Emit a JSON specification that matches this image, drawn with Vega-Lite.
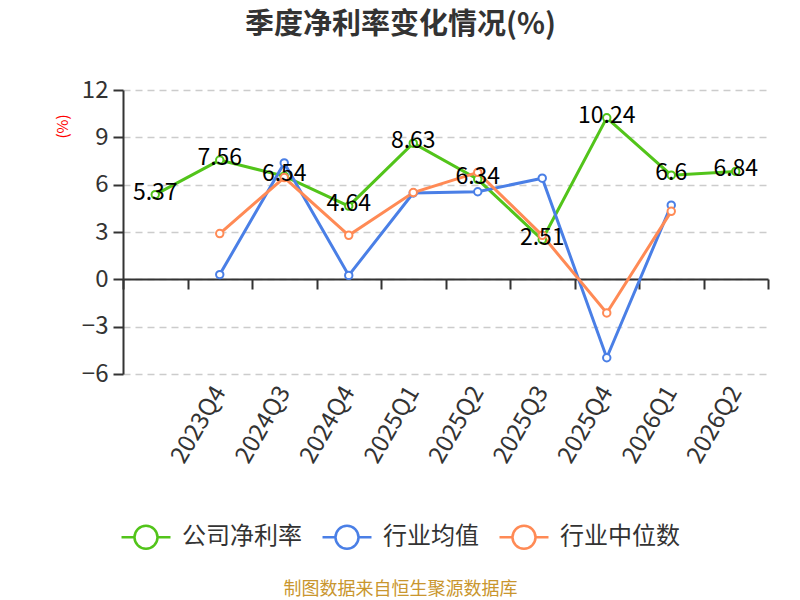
{
  "$schema": "https://vega.github.io/schema/vega-lite/v6.json",
  "description": "季度净利率变化情况",
  "autosize": {"type": "none"},
  "width": 645,
  "height": 284,
  "padding": {"left": 123, "top": 90, "right": 32, "bottom": 226},
  "background": "white",
  "config": {
    "font": "Noto Sans CJK SC",
    "view": {"stroke": null}
  },
  "title": {
    "text": "季度净利率变化情况(%)",
    "fontSize": 29,
    "fontWeight": "bold",
    "color": "#333333",
    "anchor": "middle",
    "dx": -45,
    "offset": 38
  },
  "data": {
    "values": [
      {"quarter": "", "series": "公司净利率", "value": 5.37},
      {"quarter": "2023Q4", "series": "公司净利率", "value": 7.56},
      {"quarter": "2024Q3", "series": "公司净利率", "value": 6.54},
      {"quarter": "2024Q4", "series": "公司净利率", "value": 4.64},
      {"quarter": "2025Q1", "series": "公司净利率", "value": 8.63},
      {"quarter": "2025Q2", "series": "公司净利率", "value": 6.34},
      {"quarter": "2025Q3", "series": "公司净利率", "value": 2.51},
      {"quarter": "2025Q4", "series": "公司净利率", "value": 10.24},
      {"quarter": "2026Q1", "series": "公司净利率", "value": 6.6},
      {"quarter": "2026Q2", "series": "公司净利率", "value": 6.84},
      {"quarter": "2023Q4", "series": "行业均值", "value": 0.3},
      {"quarter": "2024Q3", "series": "行业均值", "value": 7.38},
      {"quarter": "2024Q4", "series": "行业均值", "value": 0.25},
      {"quarter": "2025Q1", "series": "行业均值", "value": 5.47},
      {"quarter": "2025Q2", "series": "行业均值", "value": 5.55},
      {"quarter": "2025Q3", "series": "行业均值", "value": 6.41},
      {"quarter": "2025Q4", "series": "行业均值", "value": -4.97},
      {"quarter": "2026Q1", "series": "行业均值", "value": 4.7},
      {"quarter": "2023Q4", "series": "行业中位数", "value": 2.9},
      {"quarter": "2024Q3", "series": "行业中位数", "value": 6.45},
      {"quarter": "2024Q4", "series": "行业中位数", "value": 2.79},
      {"quarter": "2025Q1", "series": "行业中位数", "value": 5.5},
      {"quarter": "2025Q2", "series": "行业中位数", "value": 6.78},
      {"quarter": "2025Q3", "series": "行业中位数", "value": 2.79},
      {"quarter": "2025Q4", "series": "行业中位数", "value": -2.13},
      {"quarter": "2026Q1", "series": "行业中位数", "value": 4.31}
    ]
  },
  "encoding": {
    "x": {
      "field": "quarter",
      "type": "nominal",
      "sort": ["", "2023Q4", "2024Q3", "2024Q4", "2025Q1", "2025Q2", "2025Q3", "2025Q4", "2026Q1", "2026Q2"],
      "scale": {"paddingInner": 0, "paddingOuter": 0},
      "axis": {
        "offset": -95,
        "domainColor": "#333333",
        "domainWidth": 2,
        "tickBand": "extent",
        "tickColor": "#333333",
        "tickWidth": 2,
        "tickSize": 10,
        "labelAngle": -60,
        "labelAlign": "right",
        "labelBaseline": "middle",
        "labelFontSize": 24,
        "labelColor": "#333333",
        "labelPadding": 99,
        "grid": false,
        "title": "制图数据来自恒生聚源数据库",
        "titleColor": "#c9962e",
        "titleFontSize": 18,
        "titleFontWeight": "normal",
        "titleX": 277,
        "titleY": 310,
        "titleAlign": "center",
        "titleBaseline": "middle"
      }
    },
    "y": {
      "field": "value",
      "type": "quantitative",
      "scale": {"domain": [-6, 12], "nice": false, "zero": false},
      "axis": {
        "values": [-6, -3, 0, 3, 6, 9, 12],
        "domainColor": "#333333",
        "domainWidth": 2,
        "tickColor": "#333333",
        "tickWidth": 2,
        "tickSize": 10,
        "labelFontSize": 24,
        "labelColor": "#333333",
        "labelPadding": 5,
        "gridColor": "#cccccc",
        "gridDash": [7, 5],
        "gridWidth": 1.5,
        "title": "(%)",
        "titleColor": "red",
        "titleFontSize": 15,
        "titleFontWeight": "normal",
        "titleX": -61,
        "titleY": 36,
        "titleAngle": -90,
        "titleAlign": "center",
        "titleBaseline": "middle"
      }
    },
    "color": {
      "field": "series",
      "type": "nominal",
      "scale": {
        "domain": ["公司净利率", "行业均值", "行业中位数"],
        "range": ["#52c41a", "#4a7fe6", "#ff8a55"]
      },
      "legend": {
        "orient": "none",
        "direction": "horizontal",
        "legendX": -3,
        "legendY": 421,
        "title": null,
        "labelFontSize": 24,
        "labelColor": "#333333",
        "labelOffset": 10,
        "columnPadding": 15,
        "symbolType": "M-1,0L-0.47,0M0.47,0L1,0M-0.47,0A0.47,0.47 0 1,1 0.47,0A0.47,0.47 0 1,1 -0.47,0Z",
        "symbolSize": 2400,
        "symbolStrokeWidth": 2.5,
        "symbolFillColor": "white"
      }
    }
  },
  "layer": [
    {
      "mark": {"type": "line", "strokeWidth": 3}
    },
    {
      "mark": {"type": "point", "filled": false, "fill": "white", "fillOpacity": 1, "strokeWidth": 2, "size": 55, "opacity": 1}
    },
    {
      "transform": [{"filter": "datum.series === '公司净利率'"}],
      "mark": {"type": "text", "fontSize": 23, "color": "black", "dy": -2, "baseline": "middle", "align": "center"},
      "encoding": {
        "text": {"field": "value", "type": "quantitative"},
        "color": {"value": "black"}
      }
    }
  ]
}
